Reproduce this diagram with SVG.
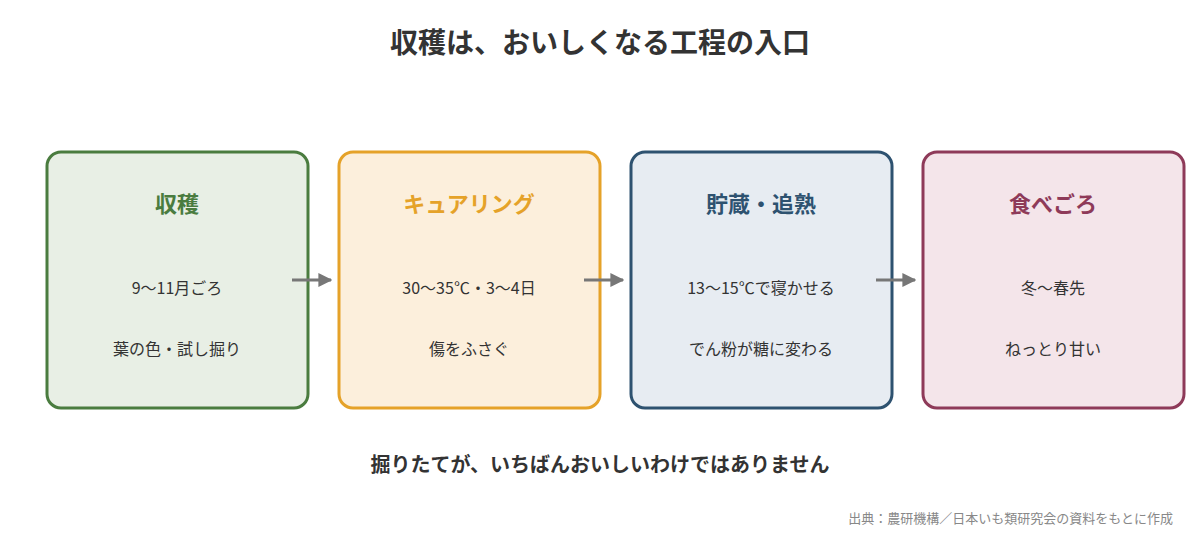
<svg xmlns="http://www.w3.org/2000/svg" width="1200" height="540" viewBox="0 0 1200 540">
<style>
text{font-family:"Noto Sans CJK JP","Noto Sans",sans-serif;text-anchor:middle}
.box{stroke-width:3}
.h{font-size:22px;font-weight:bold}
.b{font-size:16px;fill:#333}
.c{stroke:#777;stroke-width:3;fill:none}
</style>
<defs><marker id="a" markerWidth="8" markerHeight="8" refX="7" refY="4" orient="auto" markerUnits="userSpaceOnUse"><path d="M0,0L12,4L0,8z" fill="#777"/></marker>
<marker id="ar" viewBox="0 0 10 10" refX="9" refY="5" markerWidth="14" markerHeight="14" orient="auto" markerUnits="userSpaceOnUse"><path d="M0,0L10,5L0,10z" fill="#777"/></marker></defs>
<rect width="1200" height="540" fill="#fff"/>
<text x="600" y="53" font-size="28" font-weight="bold" fill="#333">収穫は、おいしくなる工程の入口</text>
<g id="n1"><rect class="box" x="47" y="152" width="261" height="256" rx="14" fill="#e8efe5" stroke="#4a7c3f"/><text class="h" x="177" y="212" fill="#4a7c3f">収穫</text><text class="b" x="177" y="294">9〜11月ごろ</text><text class="b" x="177" y="355">葉の色・試し掘り</text></g>
<g id="n2"><rect class="box" x="339" y="152" width="261" height="256" rx="14" fill="#fcefdc" stroke="#e5a229"/><text class="h" x="469" y="212" fill="#e5a229">キュアリング</text><text class="b" x="469" y="294">30〜35℃・3〜4日</text><text class="b" x="469" y="355">傷をふさぐ</text></g>
<g id="n3"><rect class="box" x="631" y="152" width="261" height="256" rx="14" fill="#e7ecf2" stroke="#2e5270"/><text class="h" x="761" y="212" fill="#2e5270">貯蔵・追熟</text><text class="b" x="761" y="294">13〜15℃で寝かせる</text><text class="b" x="761" y="355">でん粉が糖に変わる</text></g>
<g id="n4"><rect class="box" x="923" y="152" width="261" height="256" rx="14" fill="#f4e5ea" stroke="#8e3a59"/><text class="h" x="1053" y="212" fill="#8e3a59">食べごろ</text><text class="b" x="1053" y="294">冬〜春先</text><text class="b" x="1053" y="355">ねっとり甘い</text></g>
<g id="connectors"><path class="c" d="M292,280H331" marker-end="url(#ar)"/><path class="c" d="M584,280H623" marker-end="url(#ar)"/><path class="c" d="M876,280H915" marker-end="url(#ar)"/></g>
<text x="600" y="472" font-size="20" font-weight="bold" fill="#333">掘りたてが、いちばんおいしいわけではありません</text>
<text x="1173" y="523" font-size="13" fill="#888" style="text-anchor:end">出典：農研機構／日本いも類研究会の資料をもとに作成</text>
</svg>
